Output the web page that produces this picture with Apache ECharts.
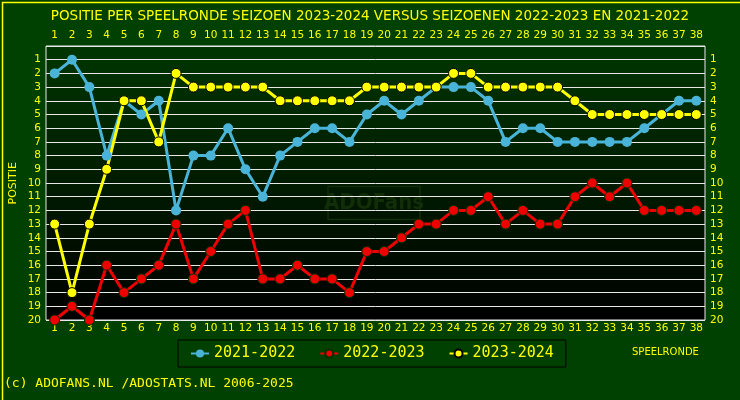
<!DOCTYPE html>
<html>
<head>
<meta charset="utf-8">
<script src="https://cdn.jsdelivr.net/npm/echarts@6/dist/echarts.min.js"></script>
<style>html,body{margin:0;padding:0;background:#004000;}#c{width:740px;height:400px;}</style>
</head>
<body>
<div id="c"></div>
<script>
const rounds = ['1','2','3','4','5','6','7','8','9','10','11','12','13','14','15','16','17','18','19','20','21','22','23','24','25','26','27','28','29','30','31','32','33','34','35','36','37','38'];
const positionTicks = [1,2,3,4,5,6,7,8,9,10,11,12,13,14,15,16,17,18,19,20];
const season2122 = [2,1,3,8,4,5,4,12,8,8,6,9,11,8,7,6,6,7,5,4,5,4,3,3,3,4,7,6,6,7,7,7,7,7,6,5,4,4];
const season2223 = [20,19,20,16,18,17,16,13,17,15,13,12,17,17,16,17,17,18,15,15,14,13,13,12,12,11,13,12,13,13,11,10,11,10,12,12,12,12];
const season2324 = [13,18,13,9,4,4,7,2,3,3,3,3,3,4,4,4,4,4,3,3,3,3,3,2,2,3,3,3,3,3,4,5,5,5,5,5,5,5];

const chart = echarts.init(document.getElementById('c'));
const Y = '#ffff00';
const axisFont = {color: Y, fontFamily: 'DejaVu Sans', fontSize: 10.5};
function yAxis(pos) {
  return {
    type: 'value', position: pos, inverse: true, min: 0, max: 20, interval: 1,
    axisLine: {show: false}, axisTick: {show: false},
    splitLine: {show: pos === 'left', lineStyle: {color: '#e8e8e8', width: 1}},
    axisLabel: Object.assign({margin: 5, formatter: v => positionTicks.includes(v) ? String(v) : ''}, axisFont)
  };
}
function xAxis(pos) {
  return {
    type: 'category', position: pos, data: rounds, boundaryGap: true,
    axisLine: {show: false}, axisTick: {show: false}, splitLine: {show: false},
    axisLabel: Object.assign({margin: pos === 'top' ? 5 : 3, interval: 0}, axisFont)
  };
}
function series(name, data, color, border) {
  return {
    name, type: 'line', data, symbol: 'circle', symbolSize: 10,
    lineStyle: {color, width: 3},
    itemStyle: {color, borderColor: border, borderWidth: border ? 1 : 0},
    emphasis: {disabled: true}, animation: false, z: 3
  };
}
chart.setOption({
  backgroundColor: '#004000',
  animation: false,
  title: {
    text: 'POSITIE PER SPEELRONDE SEIZOEN 2023-2024 VERSUS SEIZOENEN 2022-2023 EN 2021-2022',
    left: 'center', top: 4,
    textStyle: {color: Y, fontFamily: 'DejaVu Sans', fontSize: 13.5, fontWeight: 'normal'}
  },
  grid: {
    left: 46, right: 35, top: 46, bottom: 80, show: true,
    borderColor: '#e8e8e8', borderWidth: 1,
    backgroundColor: new echarts.graphic.LinearGradient(0, 0, 0, 1, [
      {offset: 0, color: '#003600'}, {offset: 1, color: '#000000'}
    ])
  },
  legend: {
    left: 178, top: 340, width: 387, padding: [6, 12], itemGap: 24,
    itemWidth: 18, itemHeight: 10,
    borderColor: '#000000', borderWidth: 1,
    textStyle: {color: Y, fontFamily: 'DejaVu Sans Mono', fontSize: 15},
    data: ['2021-2022', '2022-2023', '2023-2024']
  },
  xAxis: [xAxis('top'), xAxis('bottom')],
  yAxis: [yAxis('left'), yAxis('right')],
  series: [
    series('2021-2022', season2122, '#4ab4d8', null),
    series('2022-2023', season2223, '#ee0000', '#003000'),
    series('2023-2024', season2324, '#ffff00', '#000000')
  ],
  graphic: [
    {type: 'rect', left: 0, top: 0, shape: {width: 739, height: 399}, style: {fill: 'none', stroke: Y, lineWidth: 1.5}, z: 100},
    {type: 'group', left: 324, top: 184, z: 0, children: [
      {type: 'rect', shape: {x: 0, y: 0, width: 92, height: 33}, style: {fill: 'none', stroke: '#122e08', lineWidth: 1.5}},
      {type: 'text', x: 46, y: 17, style: {text: 'ADOFans', fill: '#122e08', font: 'bold 22px "Liberation Sans Narrow", "DejaVu Sans Condensed", sans-serif', align: 'center', verticalAlign: 'middle'}}
    ]},
    {type: 'text', left: 8, top: 162, rotation: Math.PI / 2, style: {text: 'POSITIE', fill: Y, font: '11px "DejaVu Sans"'}},
    {type: 'text', left: 632, top: 347, style: {text: 'SPEELRONDE', fill: Y, font: '10px "DejaVu Sans"'}},
    {type: 'text', left: 4, top: 377, style: {text: '(c) ADOFANS.NL /ADOSTATS.NL 2006-2025', fill: Y, font: '13px "DejaVu Sans Mono"'}}
  ]
});
</script>
</body>
</html>
